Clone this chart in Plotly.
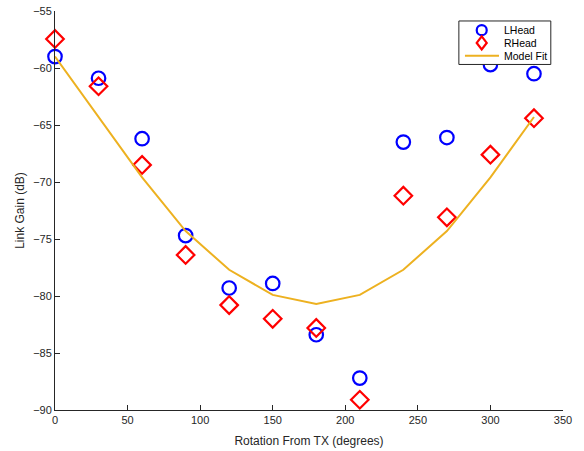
import plotly.graph_objects as go

angles = [0, 30, 60, 90, 120, 150, 180, 210, 240, 270, 300, 330]
lhead = [-59.0, -60.9, -66.2, -74.7, -79.3, -78.9, -83.4, -87.2, -66.5, -66.1, -59.7, -60.5]
rhead = [-57.45, -61.6, -68.5, -76.4, -80.8, -82.0, -82.8, -89.1, -71.2, -73.1, -67.6, -64.4]
model = [-59.0, -64.3, -69.6, -74.3, -77.7, -79.9, -80.7, -79.9, -77.7, -74.3, -69.6, -64.3]

xticks = [0, 50, 100, 150, 200, 250, 300, 350]
yticks = [-90, -85, -80, -75, -70, -65, -60, -55]
legend_labels = ["LHead", "RHead", "Model Fit"]

BLUE = "#0000FF"
RED = "#FF0000"
GOLD = "#EDB120"
AX = "#262626"

fig = go.Figure()
fig.add_trace(go.Scatter(x=angles, y=lhead, mode="markers", name=legend_labels[0],
                         cliponaxis=False,
                         marker=dict(symbol="circle-open", size=13.5, color=BLUE,
                                     line=dict(width=2.2, color=BLUE))))
fig.add_trace(go.Scatter(x=angles, y=rhead, mode="markers", name=legend_labels[1],
                         cliponaxis=False,
                         marker=dict(symbol="diamond-open", size=13.5, color=RED,
                                     line=dict(width=2.2, color=RED))))
fig.add_trace(go.Scatter(x=angles, y=model, mode="lines", name=legend_labels[2],
                         line=dict(color=GOLD, width=2)))

axis_common = dict(showgrid=False, zeroline=False, showline=True, linecolor=AX,
                   linewidth=1, ticks="inside", ticklen=5, tickcolor=AX,
                   tickfont=dict(family="Liberation Sans, Arial", size=11, color=AX),
                   mirror=False, automargin=False)

# Manual legend (MATLAB-style compact box), in paper coordinates
bx0, bx1, by0, by1 = 0.795, 0.976, 0.866, 0.975
rows = [0.952, 0.920, 0.888]
gx = 0.840
shapes = [
    dict(type="rect", xref="paper", yref="paper", x0=bx0, x1=bx1, y0=by0, y1=by1,
         fillcolor="white", line=dict(color=AX, width=1), layer="above"),
    dict(type="circle", xref="paper", yref="paper", xsizemode="pixel", ysizemode="pixel",
         xanchor=gx, yanchor=rows[0], x0=-5, x1=5, y0=-5, y1=5,
         line=dict(color=BLUE, width=2.2), layer="above"),
    dict(type="path", xref="paper", yref="paper", xsizemode="pixel", ysizemode="pixel",
         xanchor=gx, yanchor=rows[1], path="M -5 0 L 0 6.5 L 5 0 L 0 -6.5 Z",
         line=dict(color=RED, width=2.2), layer="above"),
    dict(type="line", xref="paper", yref="paper", x0=0.807, x1=0.874,
         y0=rows[2], y1=rows[2], line=dict(color=GOLD, width=2), layer="above"),
]
annotations = [
    dict(text=lab, xref="paper", yref="paper", x=0.880, y=yy, xanchor="left",
         yanchor="middle", showarrow=False,
         font=dict(family="Liberation Sans, Arial", size=10.5, color="#000000"))
    for lab, yy in zip(legend_labels, rows)
]

fig.update_layout(
    width=584, height=451,
    margin=dict(l=55, r=21, t=11, b=41),
    paper_bgcolor="white", plot_bgcolor="white",
    font=dict(family="Liberation Sans, Arial", size=11, color=AX),
    xaxis=dict(range=[0, 350], tickvals=xticks,
               title=dict(text="Rotation From TX (degrees)", standoff=11,
                          font=dict(size=12, color=AX)), **axis_common),
    yaxis=dict(range=[-90, -55], tickvals=yticks,
               title=dict(text="Link Gain (dB)", standoff=5,
                          font=dict(size=12, color=AX)), **axis_common),
    showlegend=False,
    shapes=shapes,
    annotations=annotations,
)

fig.write_html("out.html")
